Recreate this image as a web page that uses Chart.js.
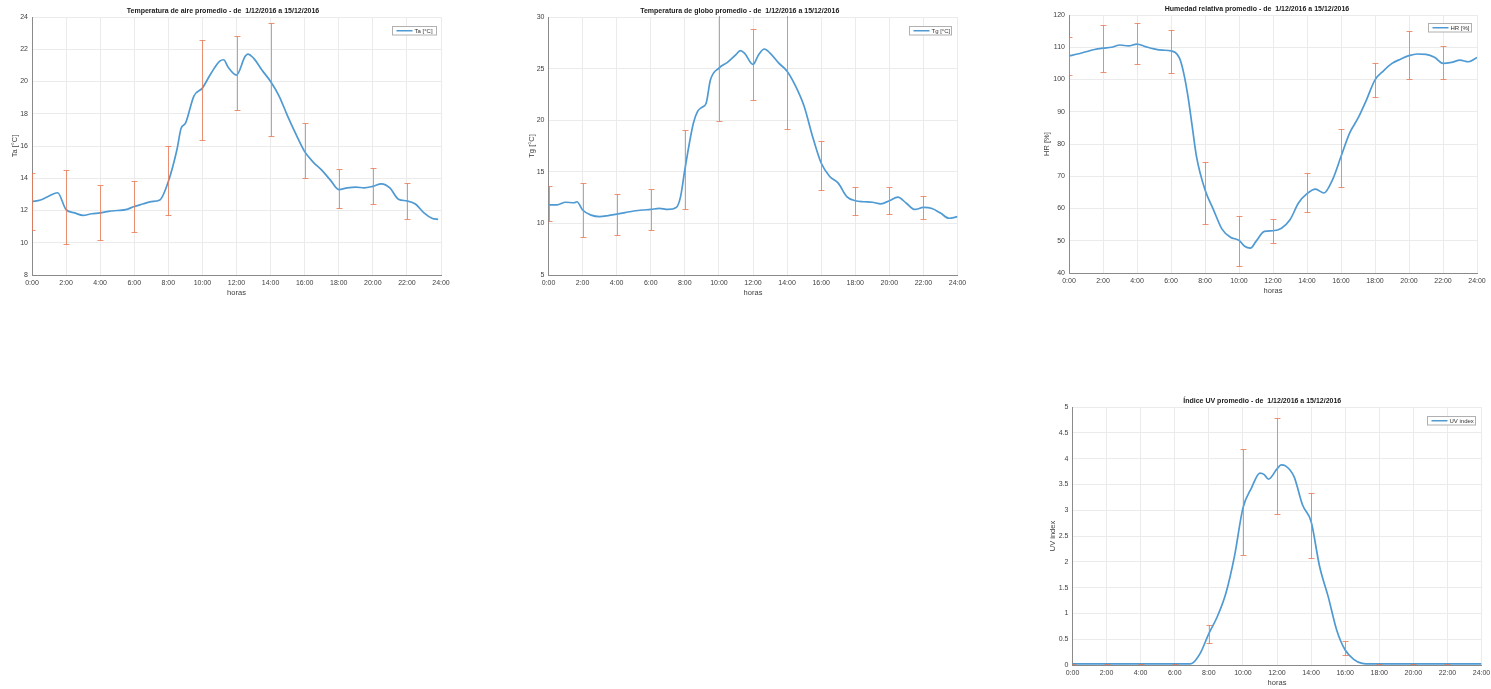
<!DOCTYPE html>
<html lang="es">
<head>
<meta charset="utf-8">
<title>Promedios 1/12/2016 a 15/12/2016</title>
<script src="https://cdn.jsdelivr.net/npm/chart.js@4.4.1/dist/chart.umd.min.js"></script>
<style>
  html, body { margin: 0; padding: 0; background: #fff; }
  body { width: 1491px; height: 689px; position: relative; overflow: hidden; }
  .grafica { position: absolute; }
</style>
</head>
<body>
<div class="grafica" id="cajaTa"><canvas id="graficaTa"></canvas></div>
<div class="grafica" id="cajaTg"><canvas id="graficaTg"></canvas></div>
<div class="grafica" id="cajaHR"><canvas id="graficaHR"></canvas></div>
<div class="grafica" id="cajaUV"><canvas id="graficaUV"></canvas></div>
<script>
// --- Datos (promedio 1/12/2016 a 15/12/2016) ---

// Temperatura de aire
const taHoras = [0, 0.5, 1, 1.5, 2, 2.5, 3, 3.5, 4, 4.5, 5, 5.5, 6, 6.5, 7, 7.5, 8, 8.5, 8.75, 9, 9.5, 10, 10.5, 11, 11.25, 11.5, 12, 12.5, 12.67, 13, 13.5, 14, 14.5, 15, 15.5, 16, 16.5, 17, 17.5, 18, 18.5, 19, 19.5, 20, 20.5, 21, 21.5, 22, 22.5, 23, 23.5, 23.83];
const taValores = [12.55, 12.65, 12.9, 13.1, 12.05, 11.85, 11.7, 11.8, 11.85, 11.95, 12.0, 12.05, 12.25, 12.4, 12.55, 12.65, 13.8, 15.75, 17.1, 17.4, 19.1, 19.6, 20.5, 21.25, 21.35, 20.9, 20.4, 21.55, 21.7, 21.45, 20.7, 20.0, 19.1, 17.85, 16.7, 15.65, 15.0, 14.5, 13.9, 13.3, 13.4, 13.45, 13.4, 13.5, 13.65, 13.4, 12.7, 12.6, 12.4, 11.85, 11.5, 11.45];

// Temperatura de globo
const tgHoras = [0, 0.5, 1, 1.5, 1.67, 2, 2.5, 3, 3.5, 4, 4.5, 5, 5.5, 6, 6.5, 7, 7.5, 7.75, 8, 8.5, 8.75, 9, 9.25, 9.5, 10, 10.5, 11, 11.25, 11.5, 12, 12.33, 12.67, 13, 13.5, 14, 14.5, 15, 15.5, 16, 16.5, 17, 17.5, 18, 18.5, 19, 19.5, 20, 20.5, 21, 21.5, 22, 22.5, 23, 23.5, 24];
const tgValores = [11.8, 11.8, 12.05, 12.0, 12.1, 11.3, 10.8, 10.65, 10.75, 10.9, 11.05, 11.2, 11.3, 11.35, 11.45, 11.35, 11.55, 12.6, 15.2, 19.7, 20.85, 21.25, 21.65, 23.9, 25.05, 25.6, 26.35, 26.75, 26.5, 25.4, 26.35, 26.9, 26.5, 25.55, 24.75, 23.3, 21.35, 18.4, 15.85, 14.55, 13.9, 12.6, 12.2, 12.1, 12.05, 11.9, 12.2, 12.55, 11.95, 11.35, 11.55, 11.45, 11.0, 10.5, 10.65];

// Humedad relativa
const hrHoras = [0, 0.5, 1, 1.5, 2, 2.5, 3, 3.5, 4, 4.5, 5, 5.5, 6, 6.5, 6.75, 7, 7.25, 7.5, 8, 8.5, 9, 9.5, 10, 10.33, 10.67, 11, 11.5, 12, 12.5, 13, 13.5, 14, 14.5, 15, 15.5, 16, 16.5, 17, 17.5, 18, 18.5, 19, 19.5, 20, 20.5, 21, 21.5, 22, 22.5, 23, 23.5, 24];
const hrValores = [107.3, 107.9, 108.6, 109.3, 109.7, 110.0, 110.7, 110.4, 111.0, 110.2, 109.5, 109.1, 108.9, 106.6, 101.9, 94.7, 85.4, 76.1, 65.8, 59.6, 53.6, 51.1, 50.1, 48.3, 47.7, 49.8, 52.9, 53.1, 53.9, 56.5, 61.7, 64.6, 66.0, 64.8, 68.9, 76.1, 83.3, 88.0, 93.7, 99.9, 102.7, 105.0, 106.3, 107.4, 107.9, 107.8, 106.9, 105.0, 105.3, 106.0, 105.5, 106.8];

// Índice UV
const uvHoras = [0, 1, 2, 3, 4, 5, 6, 6.75, 7, 7.5, 8, 8.5, 9, 9.5, 10, 10.5, 11, 11.25, 11.5, 12, 12.25, 12.5, 13, 13.5, 14, 14.5, 15, 15.5, 16, 16.5, 17, 17.5, 18, 19, 20, 21, 22, 23, 24];
const uvValores = [0.02, 0.02, 0.02, 0.02, 0.02, 0.02, 0.02, 0.02, 0.03, 0.23, 0.61, 0.94, 1.39, 2.1, 3.04, 3.43, 3.72, 3.69, 3.6, 3.8, 3.88, 3.86, 3.65, 3.1, 2.78, 1.91, 1.33, 0.68, 0.29, 0.11, 0.03, 0.02, 0.02, 0.02, 0.02, 0.02, 0.02, 0.02, 0.02];

// Barras de error (cada 2 horas)
const barrasHoras = [0, 2, 4, 6, 8, 10, 12, 14, 16, 18, 20, 22];
const taSup = [14.3, 14.5, 13.6, 13.85, 16.0, 22.6, 22.85, 23.6, 17.45, 14.6, 14.65, 13.7];
const taInf = [10.8, 9.9, 10.15, 10.65, 11.75, 16.4, 18.25, 16.6, 14.0, 12.15, 12.4, 11.5];
const tgSup = [13.65, 13.9, 12.85, 13.3, 19.05, 30.4, 28.85, 30.4, 17.95, 13.5, 13.5, 12.7];
const tgInf = [10.2, 8.65, 8.9, 9.35, 11.35, 19.9, 22.0, 19.15, 13.2, 10.8, 10.9, 10.45];
const hrSup = [113.3, 116.9, 117.4, 115.3, 74.3, 57.75, 56.7, 71.0, 84.6, 105.0, 115.0, 110.4];
const hrInf = [101.4, 102.4, 104.7, 102.1, 55.3, 42.3, 49.3, 58.8, 66.6, 94.5, 100.1, 100.1];
const uvSup = [0.02, 0.02, 0.02, 0.02, 0.78, 4.19, 4.79, 3.33, 0.47, 0.02, 0.02, 0.02];
const uvInf = [-0.02, -0.02, -0.02, -0.02, 0.42, 2.13, 2.93, 2.07, 0.19, -0.02, -0.02, -0.02];

// Etiquetas del eje horizontal
const etiquetaHora = (v) => v + ':00';

Chart.defaults.font.family = '"Liberation Sans", Arial, sans-serif';
Chart.defaults.color = '#404040';
Chart.defaults.animation = false;

const AZUL = '#4f9ad3';
const NARANJA = 'rgba(234, 120, 82, 0.8)';

// Dibuja las barras de error usando las escalas de la gráfica
function pluginBarras(horas, sup, inf) {
    return {
        id: 'barrasError',
        afterDatasetsDraw(chart) {
            const { ctx, chartArea: a, scales: { x, y } } = chart;
            ctx.save();
            ctx.beginPath();
            ctx.rect(a.left, a.top - 1, a.width, a.height + 1);
            ctx.clip();
            ctx.strokeStyle = NARANJA;
            ctx.lineWidth = 1;
            horas.forEach((h, i) => {
                const px = Math.round(x.getPixelForValue(h)) + 0.5;
                const ps = Math.round(y.getPixelForValue(sup[i])) + 0.5;
                const pi = Math.round(y.getPixelForValue(inf[i])) + 0.5;
                ctx.beginPath();
                ctx.moveTo(px, ps); ctx.lineTo(px, pi);
                ctx.moveTo(px - 3, ps); ctx.lineTo(px + 3, ps);
                ctx.moveTo(px - 3, pi); ctx.lineTo(px + 3, pi);
                ctx.stroke();
            });
            ctx.restore();
        }
    };
}

// Leyenda con recuadro dentro del área de trazado (esquina superior derecha)
function pluginLeyenda(texto, ancho, dx, dy) {
    return {
        id: 'leyendaMatlab',
        afterDraw(chart) {
            const { ctx, chartArea: a } = chart;
            const alto = 8.5;
            const x0 = Math.round(a.right - dx - ancho) + 0.5;
            const y0 = Math.round(a.top + dy) + 0.5;
            ctx.save();
            ctx.fillStyle = '#fff';
            ctx.fillRect(x0, y0, ancho, alto);
            ctx.strokeStyle = '#b0b0b0';
            ctx.lineWidth = 1;
            ctx.strokeRect(x0, y0, ancho, alto);
            ctx.strokeStyle = AZUL;
            ctx.lineWidth = 1.5;
            ctx.beginPath();
            ctx.moveTo(x0 + 4, y0 + alto / 2);
            ctx.lineTo(x0 + 20, y0 + alto / 2);
            ctx.stroke();
            ctx.fillStyle = '#333';
            ctx.font = '6px "Liberation Sans", Arial, sans-serif';
            ctx.textBaseline = 'middle';
            ctx.fillText(texto, x0 + 22, y0 + alto / 2 + 0.5);
            ctx.restore();
        }
    };
}

function crearGrafica(id, cfg) {
    const anchoEjeY = cfg.despTituloY + 10;
    const altoTitulo = 16;
    const altoEjeX = 24;
    const margenDer = 14;

    const caja = document.getElementById('caja' + id);
    caja.style.left = (cfg.area.l - anchoEjeY) + 'px';
    caja.style.top = (cfg.area.t - altoTitulo) + 'px';
    caja.style.width = (cfg.area.r - cfg.area.l + anchoEjeY + margenDer) + 'px';
    caja.style.height = (cfg.area.b - cfg.area.t + altoTitulo + altoEjeX) + 'px';

    const ctx = document.getElementById('grafica' + id).getContext('2d');
    return new Chart(ctx, {
        type: 'line',
        data: {
            datasets: [{
                label: cfg.leyenda,
                data: cfg.horas.map((h, i) => ({ x: h, y: cfg.valores[i] })),
                borderColor: AZUL,
                borderWidth: 1.7,
                pointRadius: 0,
                cubicInterpolationMode: 'monotone',
                fill: false
            }]
        },
        options: {
            responsive: true,
            maintainAspectRatio: false,
            layout: { padding: { left: 0, top: 0, right: margenDer, bottom: 0 } },
            plugins: {
                legend: { display: false },
                tooltip: { enabled: false },
                title: {
                    display: true,
                    text: cfg.titulo,
                    color: '#202020',
                    font: { size: 7, weight: 'bold' },
                    padding: { top: altoTitulo - 6 - 4.2, bottom: 1.8 }
                }
            },
            scales: {
                x: {
                    type: 'linear',
                    min: 0, max: 24,
                    afterFit: (s) => { s.height = altoEjeX; },
                    grid: { color: '#ebebeb', drawTicks: false },
                    border: { color: '#8a8a8a' },
                    ticks: { stepSize: 2, autoSkip: false, maxRotation: 0, padding: 4, font: { size: 7 }, callback: etiquetaHora },
                    title: { display: true, text: 'horas', font: { size: 7.5 }, padding: { top: 0, bottom: 2 } }
                },
                y: {
                    min: cfg.yMin, max: cfg.yMax,
                    afterFit: (s) => { s.width = anchoEjeY; },
                    grid: { color: '#ebebeb', drawTicks: false },
                    border: { color: '#8a8a8a' },
                    ticks: { stepSize: cfg.yPaso, padding: 4, font: { size: 7 }, callback: (v) => String(v) },
                    title: { display: true, text: cfg.tituloY, font: { size: 7.5 }, padding: { top: anchoEjeY - cfg.despTituloY - 4.5, bottom: 0 } }
                }
            }
        },
        plugins: [
            pluginBarras(barrasHoras, cfg.sup, cfg.inf),
            pluginLeyenda(cfg.leyenda, cfg.leyAncho, cfg.leyDx, cfg.leyDy)
        ]
    });
}

crearGrafica('Ta', {
    area: { l: 32, t: 17, r: 441, b: 275 }, despTituloY: 17,
    titulo: 'Temperatura de aire promedio - de  1/12/2016 a 15/12/2016',
    tituloY: 'Ta [°C]', leyenda: 'Ta [°C]', leyAncho: 44, leyDx: 5, leyDy: 9,
    yMin: 8, yMax: 24, yPaso: 2,
    horas: taHoras, valores: taValores, sup: taSup, inf: taInf
});

crearGrafica('Tg', {
    area: { l: 548, t: 17, r: 957, b: 275 }, despTituloY: 16.5,
    titulo: 'Temperatura de globo promedio - de  1/12/2016 a 15/12/2016',
    tituloY: 'Tg [°C]', leyenda: 'Tg [°C]', leyAncho: 42, leyDx: 7, leyDy: 9,
    yMin: 5, yMax: 30, yPaso: 5,
    horas: tgHoras, valores: tgValores, sup: tgSup, inf: tgInf
});

crearGrafica('HR', {
    area: { l: 1069, t: 15, r: 1477, b: 273 }, despTituloY: 22,
    titulo: 'Humedad relativa promedio - de  1/12/2016 a 15/12/2016',
    tituloY: 'HR [%]', leyenda: 'HR [%]', leyAncho: 43, leyDx: 6, leyDy: 8,
    yMin: 40, yMax: 120, yPaso: 10,
    horas: hrHoras, valores: hrValores, sup: hrSup, inf: hrInf
});

crearGrafica('UV', {
    area: { l: 1072, t: 407, r: 1481, b: 665 }, despTituloY: 19.5,
    titulo: 'Índice UV promedio - de  1/12/2016 a 15/12/2016',
    tituloY: 'UV index', leyenda: 'UV index', leyAncho: 48, leyDx: 7, leyDy: 9,
    yMin: 0, yMax: 5, yPaso: 0.5,
    horas: uvHoras, valores: uvValores, sup: uvSup, inf: uvInf
});
</script>
</body>
</html>
